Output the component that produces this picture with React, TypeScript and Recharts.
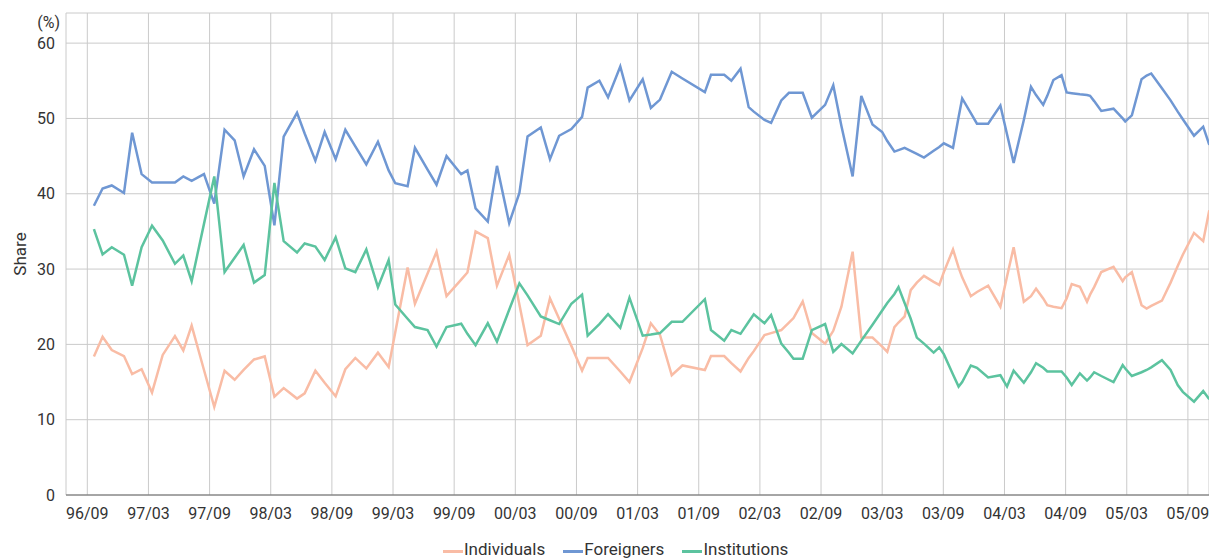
import { CartesianGrid, Line, LineChart, XAxis, YAxis } from "recharts";

const MONTHS = [
  0.65, 1.5, 2.4, 3.6, 4.4, 5.33, 6.35, 7.4, 8.6, 9.42, 10.24, 11.45, 12.46, 13.47, 14.46, 15.34, 16.36,
  17.41, 18.36, 19.27, 20.58, 21.33, 22.38, 23.29, 24.37, 25.32, 26.3, 27.38, 28.52, 29.57, 30.22, 31.43,
  32.15, 33.39, 34.27, 35.25, 36.69, 37.3, 38.1, 39.3, 40.2, 41.4, 42.4, 43.2, 44.5, 45.4, 46.3, 47.5,
  48.55, 49.1, 50.25, 51.1, 52.3, 53.2, 54.5, 55.3, 56.2, 57.35, 58.4, 60.6, 61.2, 62.5, 63.2, 64.1,
  64.9, 65.4, 66.45, 67.1, 68.1, 68.85, 69.3, 70.2, 71.1, 72.4, 73.2, 74.0, 75.1, 75.95, 77.05, 78.0,
  78.5, 79.2, 79.6, 80.2, 80.8, 81.4, 82.1, 83.05, 83.6, 84.05, 84.95, 85.5, 85.85, 86.7, 87.3, 88.4,
  89.6, 90.25, 90.9, 91.9, 92.6, 93.1, 93.8, 94.2, 94.8, 95.6, 96.1, 96.6, 97.4, 98.1, 98.4, 98.8,
  99.5, 100.7, 101.6, 101.85, 102.5, 103.45, 103.95, 104.4, 105.45, 106.3, 107.0, 107.5, 108.6, 109.5,
  110.1,
];

const INDIVIDUALS = [
  18.4, 21.0, 19.25, 18.45, 16.05, 16.7, 13.6, 18.6, 21.1, 19.2, 22.5, 16.6, 11.7, 16.5, 15.3, 16.6, 18.0,
  18.4, 13.05, 14.2, 12.8, 13.5, 16.5, 14.9, 13.1, 16.7, 18.2, 16.8, 18.9, 17.0, 21.6, 30.2,
  25.4, 29.4, 32.3, 26.4, 28.6, 29.55, 35.0, 34.1, 27.8, 31.9, 25.3, 19.9, 21.15, 26.1, 23.4, 19.8,
  16.5, 18.2, 18.2, 18.2, 16.4, 15.0, 19.5, 22.8, 21.25, 15.9, 17.2, 16.6, 18.45, 18.45, 17.5, 16.4,
  18.2, 19.1, 21.25, 21.5, 21.9, 22.9, 23.5, 25.7, 21.5, 20.1, 21.8, 25.0, 32.3, 20.9, 20.9, 19.7,
  19.0, 22.3, 22.9, 23.7, 27.2, 28.2, 29.1, 28.3, 27.9, 29.6, 32.6, 30.2, 28.9, 26.4, 26.95, 27.8,
  25.0, 29.0, 32.9, 25.65, 26.4, 27.4, 26.1, 25.2, 25.0, 24.8, 26.1, 28.0, 27.65, 25.65, 26.6, 27.6,
  29.6, 30.3, 28.4, 28.9, 29.6, 25.2, 24.75, 25.1, 25.8, 28.2, 30.4, 31.9, 34.8, 33.7,
  37.8,
];

const FOREIGNERS = [
  38.4, 40.7, 41.1, 40.1, 48.1, 42.6, 41.5, 41.5, 41.5, 42.3, 41.7, 42.6, 38.7, 48.5, 47.1, 42.3, 45.9,
  43.7, 35.8, 47.6, 50.75, 48.0, 44.4, 48.2, 44.6, 48.5, 46.3, 43.9, 46.9, 43.1, 41.4, 41.0,
  46.1, 43.2, 41.2, 45.0, 42.6, 43.1, 38.05, 36.3, 43.7, 36.1, 40.1, 47.6, 48.8, 44.6, 47.7, 48.6,
  50.2, 54.1, 55.0, 52.8, 56.9, 52.4, 55.2, 51.4, 52.5, 56.2, 55.3, 53.5, 55.8, 55.8, 55.0, 56.6,
  51.5, 50.9, 49.8, 49.4, 52.4, 53.4, 53.4, 53.4, 50.1, 51.8, 54.4, 49.0, 42.3, 53.0, 49.2, 48.2,
  47.0, 45.6, 45.8, 46.1, 45.7, 45.3, 44.8, 45.7, 46.2, 46.7, 46.1, 50.2, 52.65, 50.7, 49.3, 49.3,
  51.7, 47.9, 44.1, 49.8, 54.2, 53.1, 51.8, 53.0, 55.1, 55.75, 53.45, 53.35, 53.2, 53.1, 53.0, 52.3,
  51.0, 51.3, 50.0, 49.6, 50.4, 55.2, 55.7, 55.97, 54.0, 52.4, 50.9, 49.9, 47.7, 48.9,
  46.5,
];

const INSTITUTIONS = [
  35.3, 31.95, 32.9, 31.9, 27.8, 32.9, 35.75, 33.8, 30.7, 31.8, 28.4, 36.0, 42.3, 29.6, 31.5, 33.2, 28.2,
  29.2, 41.45, 33.7, 32.2, 33.4, 33.0, 31.2, 34.2, 30.1, 29.6, 32.6, 27.6, 31.2, 25.3, 23.4,
  22.3, 21.9, 19.7, 22.3, 22.75, 21.4, 19.9, 22.8, 20.35, 24.6, 28.1, 26.5, 23.7, 23.2, 22.7, 25.4,
  26.6, 21.15, 22.7, 24.0, 22.2, 26.2, 21.15, 21.3, 21.5, 23.0, 23.0, 26.0, 21.9, 20.5, 21.9, 21.4,
  23.0, 24.0, 22.8, 23.9, 20.1, 18.9, 18.1, 18.1, 21.9, 22.7, 19.0, 20.05, 18.8, 20.5, 22.6, 24.5,
  25.5, 26.7, 27.6, 25.5, 23.4, 20.9, 20.1, 18.9, 19.6, 18.7, 16.0, 14.4, 15.0, 17.2, 16.9, 15.6,
  15.9, 14.4, 16.5, 14.9, 16.3, 17.5, 16.9, 16.4, 16.4, 16.4, 15.6, 14.6, 16.15, 15.2, 15.6, 16.3,
  15.8, 15.0, 17.25, 16.8, 15.8, 16.3, 16.6, 16.95, 17.9, 16.6, 14.6, 13.7, 12.4, 13.8,
  12.7,
];

const TICK_MONTHS = [0, 6, 12, 18, 24, 30, 36, 42, 48, 54, 60, 66, 72, 78, 84, 90, 96, 102, 108];
const TICK_LABELS = [
  "96/09", "97/03", "97/09", "98/03", "98/09", "99/03", "99/09", "00/03", "00/09", "01/03",
  "01/09", "02/03", "02/09", "03/03", "03/09", "04/03", "04/09", "05/03", "05/09",
];
const Y_TICKS = [0, 10, 20, 30, 40, 50, 60];

const SERIES = [
  { key: "individuals", name: "Individuals", color: "#f9bca5" },
  { key: "foreigners", name: "Foreigners", color: "#6f97d3" },
  { key: "institutions", name: "Institutions", color: "#5cc39f" },
];

const data = MONTHS.map((m, i) => ({
  m,
  individuals: INDIVIDUALS[i],
  foreigners: FOREIGNERS[i],
  institutions: INSTITUTIONS[i],
}));

const TEXT = "#333333";
const GRID = "#cacaca";

function tickLabel(v: number) {
  const i = TICK_MONTHS.indexOf(v);
  return i >= 0 ? TICK_LABELS[i] : "";
}

export default function App() {
  return (
    <div
      style={{
        position: "absolute",
        left: 0,
        top: 0,
        width: 1209,
        height: 558,
        overflow: "hidden",
        fontFamily: "Roboto, sans-serif",
        background: "#fff",
      }}
    >
      <LineChart width={1209} height={558} data={data} margin={{ top: 13, right: 0, left: 0, bottom: 0 }}>
        <CartesianGrid stroke={GRID} />
        <XAxis
          dataKey="m"
          type="number"
          domain={[-2.09, 110.07]}
          allowDataOverflow
          ticks={TICK_MONTHS}
          interval={0}
          tickFormatter={tickLabel}
          height={63}
          tickLine={false}
          tickMargin={7}
          axisLine={{ stroke: "#666666" }}
          tick={{ fontSize: 16, fill: TEXT }}
        />
        <YAxis
          type="number"
          domain={[0, 64]}
          ticks={Y_TICKS}
          width={66}
          axisLine={false}
          tickLine={false}
          tickMargin={5}
          tick={{ fontSize: 16, fill: TEXT }}
          label={{
            value: "Share",
            angle: -90,
            position: "insideLeft",
            offset: 20,
            style: { textAnchor: "middle", fontSize: 17, fill: TEXT },
          }}
        />
        {SERIES.map((s) => (
          <Line
            key={s.key}
            type="linear"
            dataKey={s.key}
            name={s.name}
            stroke={s.color}
            strokeWidth={2.5}
            dot={false}
            activeDot={false}
            isAnimationActive={false}
          />
        ))}
      </LineChart>
      <div
        style={{
          position: "absolute",
          left: 0,
          top: 15,
          width: 60,
          textAlign: "right",
          fontSize: 16,
          lineHeight: "16px",
          color: TEXT,
        }}
      >
        (%)
      </div>
      <div
        style={{
          position: "absolute",
          left: 443,
          top: 541,
          display: "flex",
          alignItems: "center",
          fontSize: 17,
          lineHeight: "17px",
          color: TEXT,
          whiteSpace: "nowrap",
        }}
      >
        {SERIES.map((s) => (
          <div key={s.key} style={{ display: "flex", alignItems: "center", marginRight: 18 }}>
            <div style={{ width: 20, height: 3, background: s.color, marginRight: 1, marginTop: 4 }} />
            <span>{s.name}</span>
          </div>
        ))}
      </div>
    </div>
  );
}
